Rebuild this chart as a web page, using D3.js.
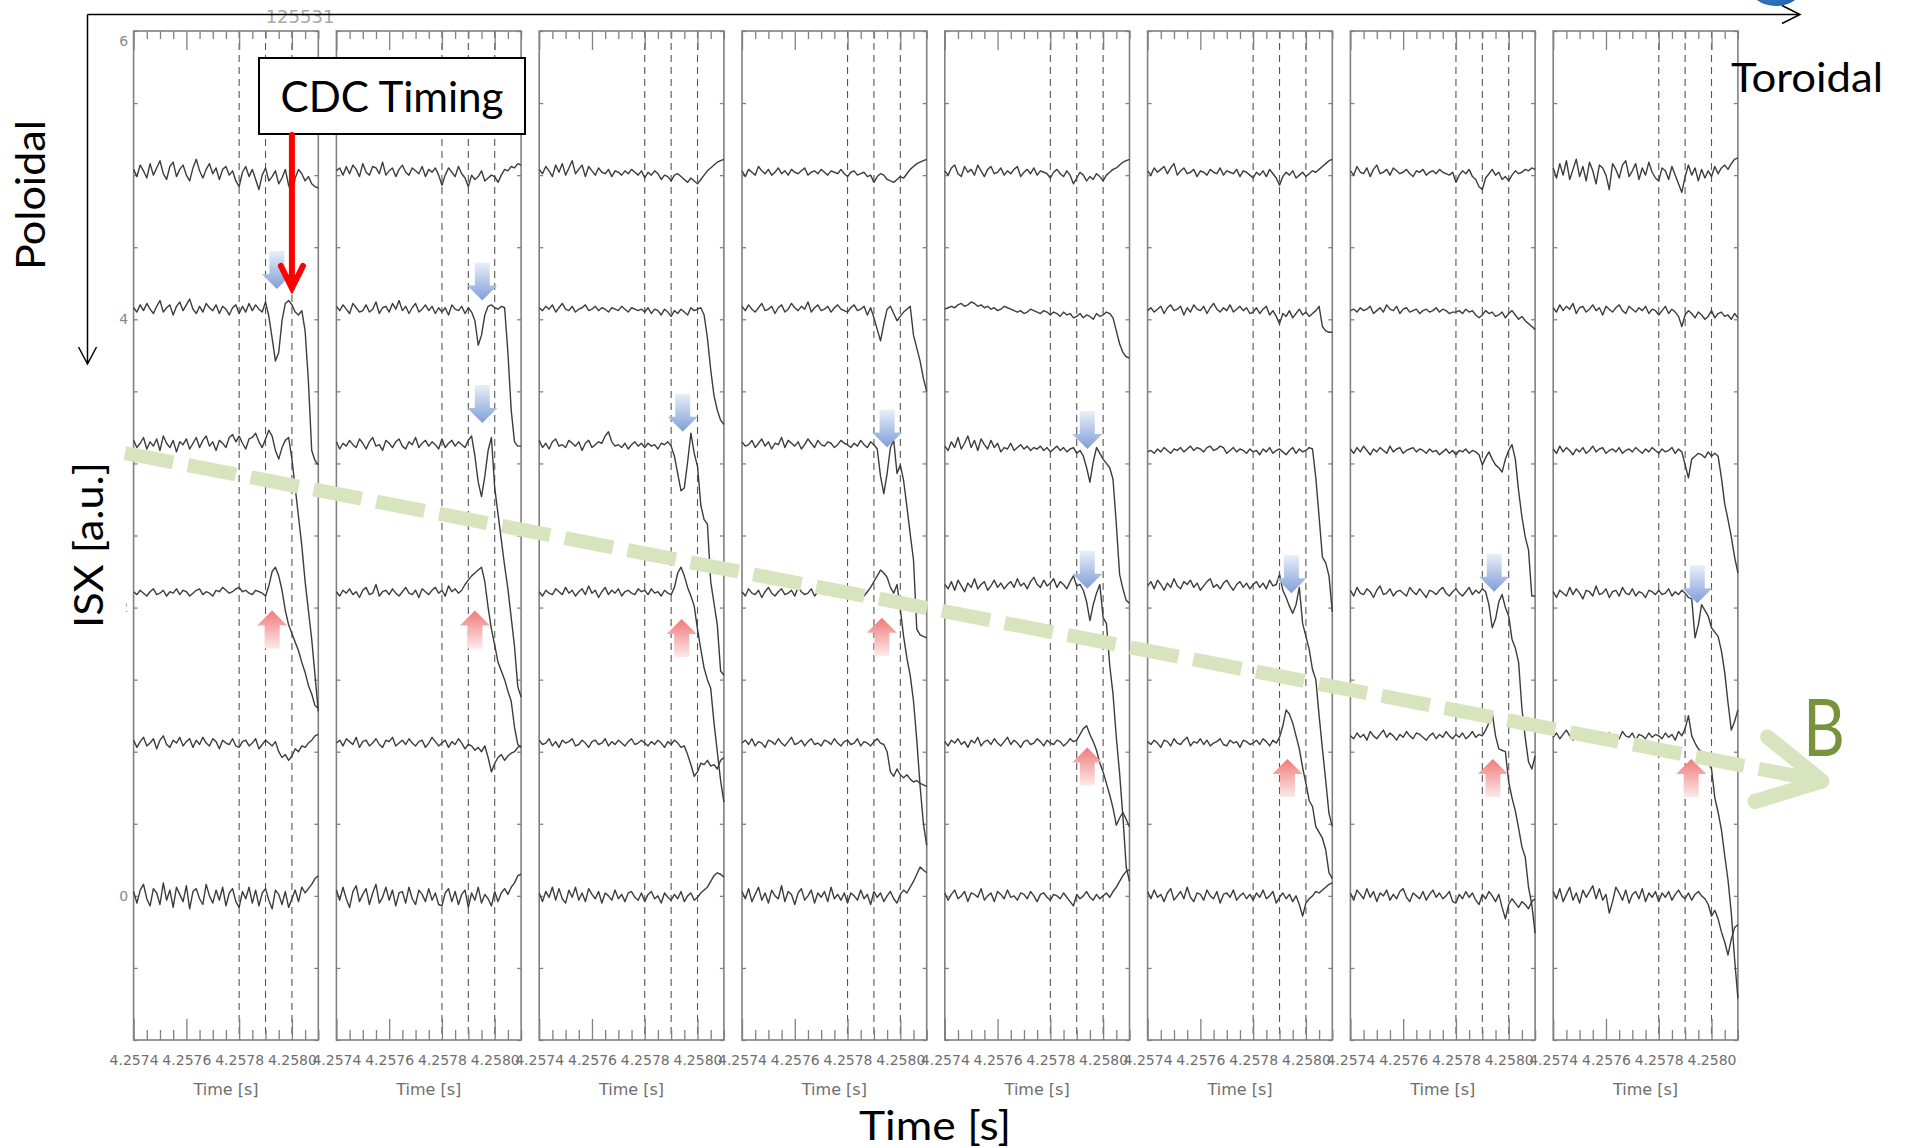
<!DOCTYPE html>
<html>
<head>
<meta charset="utf-8">
<script src="https://cdn.jsdelivr.net/npm/d3@7"></script>
<style>
  html, body { margin: 0; padding: 0; background: #ffffff; }
  svg { display: block; }
</style>
</head>
<body>
<svg id="chart" width="1905" height="1148"></svg>
<script>
// ---------------- data ----------------
const timeDomain = [4.2574, 4.2581];
const timeTicksMajor = [4.2574, 4.2576, 4.2578, 4.2580];
const timeTickLabels = ["4.2574", "4.2576", "4.2578", "4.2580"];
const markerTimes = [4.2578, 4.2579, 4.2580];          // dashed reference times
const isxDomain = [-1, 6];
const isxTickLabels = [0, 2, 4, 6];
const channelOffsets = [5.02, 4.07, 3.13, 2.10, 1.06, 0.00];
const sampleStart = 4.2574, sampleStep = 0.0000125, sampleCount = 57;
const shotNumber = "125531";
const cdcTime = 4.2580;

// ISX signals per toroidal array, six poloidal channels each, in units of 0.01 a.u.
const isxArray1 = [
  [2,-3,5,1,-4,6,-2,3,8,-1,-5,4,7,-3,2,5,-2,-6,3,9,1,-4,2,6,-1,3,-5,2,4,-2,1,-6,-10,0,4,-3,2,-5,-12,-2,3,-6,-3,1,-8,-4,2,-9,-15,-4,2,-1,-6,-3,-8,-10,-11],
  [1,-2,3,-1,4,0,-3,2,6,-2,1,3,-4,2,5,-1,3,7,0,-3,2,-2,4,1,-1,3,-3,2,0,-4,1,3,-3,2,-2,4,-1,3,0,-2,5,-5,-20,-36,-30,-8,4,6,3,-2,-4,-1,-15,-50,-98,-105,-108],
  [3,-2,1,5,-3,2,-1,4,-4,6,1,-2,3,-5,2,0,4,-3,1,5,-2,3,6,-1,2,-4,3,1,-2,5,7,2,6,1,-3,4,5,8,2,-2,4,10,6,-4,-10,-2,3,5,-10,-30,-50,-70,-95,-115,-135,-160,-185],
  [1,-1,2,0,-2,1,3,-1,0,2,-2,1,0,3,-1,2,1,-2,0,2,3,-1,1,0,-2,2,1,4,2,0,1,3,4,1,2,0,-1,2,1,0,-2,5,15,18,12,2,-12,-22,-28,-34,-40,-48,-55,-64,-70,-78,-80],
  [2,-3,1,4,-2,0,3,-4,2,5,-1,-3,2,0,4,-2,1,3,-3,2,-1,4,0,-2,3,1,-4,2,0,-1,3,-2,-3,1,2,-2,0,3,-4,-1,2,0,-2,1,-6,-10,-8,-12,-9,-4,-6,-2,-3,0,2,5,6],
  [3,-5,4,8,-2,-7,5,2,-6,9,-3,4,-8,6,1,-4,7,-9,3,5,-2,-6,8,0,-5,4,-3,6,-7,2,5,-4,-8,3,-2,6,-5,4,-7,2,5,-3,-9,4,1,-6,3,-8,-2,4,-4,6,2,5,8,12,14]
];
const isxArray2 = [
  [1,3,-2,4,-1,5,2,-3,6,0,-2,4,3,-1,7,-2,1,3,-3,2,5,0,-2,3,1,-1,4,-3,2,0,3,-2,-9,-2,3,0,-3,4,-1,-4,-10,-2,-5,-3,1,-6,-4,-2,-3,-7,-2,2,1,4,3,6,5],
  [2,-1,3,0,-3,4,1,-2,-1,3,-2,0,5,-3,1,2,-2,4,0,6,-1,2,-3,1,4,-2,0,3,-1,2,-3,1,-2,1,-4,3,0,-1,2,-3,1,-2,-8,-25,-18,-4,2,3,1,0,2,1,-30,-70,-92,-95,-95],
  [2,-3,1,-1,3,0,-2,4,1,-3,2,5,-1,0,-4,3,1,-2,2,4,-1,-3,2,0,5,-2,1,3,-1,2,0,-3,4,-2,1,3,-1,2,0,-2,3,6,-8,-26,-36,-22,-4,5,-30,-48,-66,-84,-100,-120,-140,-168,-175],
  [1,-2,2,0,3,-1,1,-3,2,4,-1,0,6,-2,1,2,-1,3,0,-2,1,4,0,-1,2,-3,3,1,-1,2,4,0,2,-2,5,1,3,0,2,6,9,12,14,16,18,8,-10,-25,-36,-48,-54,-60,-68,-75,-93,-105,-107],
  [0,2,-2,3,1,-1,4,-3,1,2,-2,0,3,-1,-3,2,1,4,-2,0,2,-1,3,0,-2,1,2,-3,0,4,1,-2,0,2,-3,1,-1,3,0,-4,-1,-2,-5,-3,-6,-2,-10,-20,-14,-10,-8,-12,-9,-7,-6,-3,-2],
  [4,-3,6,-2,-8,3,7,-4,1,5,-6,2,8,-5,-1,6,-3,4,-7,2,3,-5,6,-2,-6,4,1,-4,5,-3,2,-6,-7,2,5,-4,3,-6,1,4,-8,2,-3,6,-5,1,-2,-7,3,-4,2,5,1,6,9,14,15]
];
const isxArray3 = [
  [2,-1,4,1,-3,5,0,6,-2,3,8,-1,2,5,-3,4,1,-2,3,0,-1,2,-3,1,0,-2,1,-1,2,0,-2,1,-4,0,-2,1,-1,-5,-2,-3,-6,-2,-1,-3,-5,-7,-4,-6,-8,-5,-2,1,3,5,7,8,9],
  [1,-1,2,0,3,-2,1,4,0,-1,2,-2,0,1,3,-1,0,2,-1,1,0,-2,1,0,-1,2,0,-2,1,0,-1,0,-2,1,-3,0,-1,-4,0,-2,-5,-1,-3,0,-2,-4,1,-1,0,1,-4,-20,-42,-60,-70,-77,-80],
  [3,-2,1,-3,2,4,-1,0,-2,3,1,-1,2,-4,1,3,-2,0,2,1,6,9,2,-1,0,-2,1,-3,0,2,-1,1,-2,1,-1,0,-3,1,0,2,-1,-8,-20,-32,-30,-12,8,-6,-15,-42,-52,-55,-95,-110,-125,-157,-160],
  [1,-2,2,0,-1,3,1,-1,4,0,2,-2,1,3,-1,5,0,2,-3,1,4,-1,2,0,3,-2,1,2,0,-1,3,1,2,-1,3,0,1,-2,2,0,-1,4,14,18,12,4,-2,-9,-25,-39,-52,-60,-66,-90,-110,-130,-145],
  [2,-1,0,3,-2,1,-3,2,0,1,3,-2,-1,2,0,-3,1,2,-1,0,3,-2,1,-1,2,0,-2,1,3,-1,0,2,0,-2,1,-1,2,0,-3,1,-1,2,0,-3,-2,-8,-15,-23,-20,-14,-15,-12,-16,-15,-18,-12,-10],
  [2,-4,3,-1,6,-3,5,-2,-5,4,-1,6,-3,2,-4,5,1,-2,3,-5,2,0,-3,4,-2,1,-4,2,3,-1,-3,2,-4,1,3,-2,0,-5,2,-1,-3,1,-2,3,-4,0,2,-3,-1,2,4,6,10,14,16,15,13]
];
const isxArray4 = [
  [1,-3,2,0,-2,4,1,-1,2,-2,0,3,-1,1,-2,2,0,-1,1,3,-2,0,1,-1,2,0,-2,1,0,-1,2,-1,-3,0,1,-2,-1,0,-3,-2,-7,-3,-1,-2,-5,-6,-7,-5,-3,-4,-1,2,4,6,7,8,9],
  [2,-1,3,0,-2,1,4,-1,0,2,-3,1,3,-2,0,4,1,-1,2,0,5,-2,1,3,-1,0,2,-2,1,3,0,-1,-2,1,3,-1,0,2,-4,1,-6,-14,-22,-10,0,2,-3,-8,-5,-2,0,2,-18,-27,-36,-48,-57],
  [2,-1,0,3,-2,1,4,-1,2,-3,1,0,5,-2,3,1,-1,2,-3,0,4,1,-2,3,0,-1,2,1,-2,0,3,1,0,-2,1,-1,3,0,-2,2,0,-3,-22,-34,-20,-2,3,-20,-14,-25,-43,-62,-80,-128,-132,-133,-134],
  [1,-2,3,0,-1,2,-3,1,4,0,-2,1,3,-1,0,2,-2,4,1,-1,0,3,-2,1,2,-1,0,3,1,-2,2,0,1,-1,2,0,3,-2,1,4,8,12,16,14,11,4,0,6,-11,-30,-45,-57,-75,-102,-134,-160,-175],
  [0,2,-1,3,-2,1,0,-3,2,1,-1,3,0,-2,1,4,-1,0,2,-2,1,3,-1,0,-2,2,1,-1,3,0,-2,1,2,-1,0,3,-2,1,0,-2,1,3,0,-1,-6,-20,-23,-18,-22,-24,-22,-25,-27,-26,-28,-29,-30],
  [3,-2,5,-4,1,6,-3,2,-5,4,0,-2,7,-4,3,1,-6,2,5,-3,0,4,-5,2,-1,3,-4,6,-2,1,-3,2,-5,2,0,-3,4,-2,1,-6,3,-1,2,-4,0,3,-2,-5,1,4,2,6,10,15,20,18,16]
];
const isxArray5 = [
  [1,-2,3,5,-1,-3,4,0,2,-2,5,1,-3,2,4,-1,0,3,-2,1,-1,2,4,-3,0,2,-1,3,-2,1,0,-1,-4,0,2,-1,-3,1,-2,-8,-4,0,-2,-6,-3,-5,-1,-3,-6,-2,0,2,3,5,7,8,9],
  [0,1,2,1,3,4,2,3,5,4,2,3,1,2,0,1,-1,0,2,1,0,-1,-2,-1,-3,-2,0,-1,-2,-3,-1,-2,-4,-2,-3,-5,-2,-4,-3,-6,-5,-3,-6,-4,-5,-7,-3,-5,-4,-2,-3,-6,-15,-24,-30,-33,-34],
  [-1,-4,2,-2,5,-3,1,6,-2,3,-4,4,0,-3,3,-2,1,-5,-2,-3,1,-4,-2,0,-3,-1,-4,-2,-3,-1,-4,-2,-5,-3,-1,-4,-2,-5,-3,-2,-6,-4,-8,-16,-26,-12,-2,-6,-10,-13,-16,-24,-55,-90,-100,-108,-110],
  [6,3,8,2,9,5,1,7,4,10,3,6,8,2,5,9,4,7,3,6,8,4,10,5,7,3,8,11,6,4,9,5,7,10,4,8,6,3,8,12,5,6,2,-6,-19,-8,0,6,-17,-21,-50,-70,-100,-125,-155,-190,-200],
  [1,-2,2,0,3,-1,1,-3,2,0,4,-2,1,2,-1,3,0,-2,1,4,-1,2,0,-3,1,2,-1,0,3,1,-2,2,0,-1,2,1,-2,0,3,1,2,6,10,12,6,1,-5,-14,-20,-28,-36,-45,-57,-52,-48,-53,-58],
  [2,-3,1,4,-2,0,3,-4,2,1,-1,5,-3,0,2,-4,3,1,-2,4,-1,0,-3,2,1,-2,3,0,-4,1,2,-1,-3,1,0,-2,2,-1,-4,-7,1,-2,0,3,-1,-3,1,-2,0,2,-1,3,6,10,14,17,18]
];
const isxArray6 = [
  [1,-2,3,0,2,4,-1,3,6,-2,1,3,-1,0,2,-3,1,0,-2,2,0,-1,3,-2,1,0,-1,2,-3,1,0,-2,-4,0,-2,1,-3,2,-1,-4,-9,-3,0,-2,1,-4,-2,0,-3,-1,1,0,2,4,6,8,9],
  [-1,1,-2,0,2,-3,1,3,-1,0,2,-4,1,-2,3,0,-1,2,-3,1,4,0,-2,1,-1,3,-2,0,2,-1,1,-3,-2,1,-3,0,2,-4,-1,-5,-10,-3,-5,-1,-6,-3,0,-4,-2,-5,-3,-1,2,-12,-15,-16,-16],
  [-5,-4,-6,-3,-5,-2,-4,-6,-3,-4,-2,-5,-3,-1,-4,-2,-3,-5,-2,-1,-4,-3,-1,-2,-6,-4,-2,-5,-3,-4,-6,-3,-5,-4,-7,-3,-5,-2,-6,-4,-3,-5,-7,-4,-2,-6,-3,-5,-4,-2,-3,-23,-50,-78,-82,-91,-116],
  [5,8,3,9,6,2,7,4,10,5,3,8,6,9,4,7,2,5,8,10,4,6,3,7,9,5,2,6,8,4,7,3,6,8,4,7,3,9,5,6,13,2,-3,-9,-14,-8,4,-21,-30,-39,-53,-60,-85,-108,-130,-153,-162],
  [1,-1,2,0,-3,2,1,-2,3,0,-1,2,4,-2,1,0,3,-1,2,-2,0,1,3,-1,-2,2,0,1,-3,2,1,-1,0,2,-1,3,1,-2,2,0,4,12,23,20,14,5,-4,-17,-28,-40,-44,-58,-62,-66,-74,-90,-94],
  [3,-2,4,-1,1,-4,2,5,-3,0,3,-2,6,-1,-4,2,1,-3,4,0,-2,3,-5,1,2,-1,4,-3,0,2,-2,1,-3,2,-1,4,-2,0,3,-5,-1,2,-2,1,-4,0,-6,-14,-5,-2,0,3,2,4,6,8,9]
];
const isxArray7 = [
  [1,-2,4,0,-1,3,-3,2,5,-1,0,2,-2,3,1,-1,0,2,-1,-3,1,0,2,-2,0,1,-1,2,0,-1,-2,0,-7,-2,1,-1,2,-3,-5,-10,-12,-4,-1,2,-2,0,-5,-3,-6,-2,1,-1,0,2,1,3,2],
  [-1,0,-2,1,-1,0,2,-3,-1,1,-2,3,0,-1,2,-3,0,1,-2,-1,0,-3,-1,0,-2,-1,1,-2,0,-1,-3,-2,-2,-1,-3,0,-2,-1,-4,-6,-4,-1,-3,-2,-5,-4,-2,-6,-3,-1,-4,-7,-5,-8,-10,-12,-14],
  [-3,-6,-2,-5,-1,-4,-7,-3,-5,-2,-4,-6,-1,-5,-3,-2,-6,-4,-3,-2,-5,-3,-4,-6,-3,-5,-4,-7,-5,-3,-6,-4,-7,-4,-5,-3,-6,-4,-5,-7,-14,-9,-5,-10,-14,-16,-19,-10,-4,0,-10,-32,-50,-64,-73,-105,-105],
  [2,-2,4,0,-1,3,1,-3,2,5,-1,0,3,-2,1,2,0,-2,4,1,-1,3,0,-3,2,1,-1,2,4,0,-2,1,3,0,-2,1,4,-1,2,0,3,1,-8,-24,-18,-6,-1,-10,-16,-32,-38,-48,-80,-100,-117,-122,-113],
  [5,3,7,4,6,2,8,5,3,6,9,4,7,5,2,6,4,8,5,3,7,6,4,2,5,7,3,6,4,8,5,3,6,4,7,3,5,8,4,6,5,9,14,21,5,-4,-5,-6,-27,-38,-47,-59,-72,-79,-100,-112,-132],
  [2,-3,4,1,-2,5,-1,3,-4,2,0,4,-3,1,-2,3,5,-1,-4,2,0,-2,3,-3,1,4,-1,2,-2,0,3,-4,-5,1,-2,3,-1,2,-3,-6,1,-2,3,0,-4,1,-8,-16,-6,-2,-5,-8,-4,-6,-9,-4,-2]
];
const isxArray8 = [
  [3,-4,6,-2,8,-5,2,9,-3,4,-6,7,1,-8,5,3,-2,-12,6,2,-4,5,8,-3,1,6,-5,3,-2,7,0,-4,-6,3,1,-5,4,-2,-8,-14,-3,5,-2,3,-6,2,-4,1,-3,4,-1,3,5,2,6,9,10],
  [1,-2,3,-1,2,0,4,-3,1,2,-2,0,3,-1,1,-4,2,0,-2,1,3,-1,-3,2,0,-2,1,-1,2,-3,0,-1,-4,-1,2,-3,0,-2,-5,-12,-4,-1,-3,-6,-2,-4,-7,-5,-1,-6,-3,-2,-5,-4,-7,-3,-6],
  [-3,-6,-1,-5,-2,-4,-7,-3,-5,-2,-6,-4,-1,-5,-3,-2,-6,-4,-3,-5,-2,-6,-4,-3,-5,-2,-4,-6,-3,-5,-2,-4,-6,-3,-5,-4,-2,-6,-3,-5,-14,-23,-10,-8,-6,-7,-9,-5,-8,-6,-8,-23,-41,-52,-64,-78,-89],
  [1,-3,2,0,-2,4,-1,3,0,-4,2,1,-2,5,-1,0,3,-3,1,2,-2,4,0,-1,3,-2,1,0,-3,2,1,-1,2,-1,0,3,-2,1,-1,2,0,-3,-4,-31,-22,-8,-12,-16,-24,-27,-30,-40,-55,-76,-95,-89,-81],
  [4,7,3,6,9,5,2,8,6,4,7,3,5,8,6,2,5,7,4,6,3,8,5,4,7,2,6,5,3,7,4,6,5,3,7,4,6,2,8,5,10,19,5,0,-4,-6,-9,-14,-18,-38,-48,-60,-78,-95,-118,-150,-177],
  [3,-2,5,-4,1,6,-3,2,-5,4,-1,3,7,-2,5,-3,1,-12,-4,6,2,-3,4,-5,1,3,-2,5,-4,2,-1,3,-4,2,-1,3,-3,1,4,0,-2,2,-3,1,3,0,-2,-6,-14,-10,-16,-25,-32,-41,-30,-22,-20]
];
const isxArrays = [isxArray1, isxArray2, isxArray3, isxArray4, isxArray5, isxArray6, isxArray7, isxArray8];

// event markers: [array index, time, ISX value at the tip]
const dropMarks = [
  [0, 4.257943, 4.21], [1, 4.257953, 4.13], [1, 4.257953, 3.28], [2, 4.257944, 3.22],
  [3, 4.257950, 3.11], [4, 4.257940, 3.10], [4, 4.257940, 2.13], [5, 4.257945, 2.10],
  [6, 4.257945, 2.11], [7, 4.257946, 2.03]
];
const riseMarks = [
  [0, 4.257925, 1.98], [1, 4.257925, 1.98], [2, 4.257940, 1.92], [3, 4.257930, 1.93],
  [4, 4.257940, 1.03], [5, 4.257930, 0.95], [6, 4.257940, 0.95], [7, 4.257923, 0.95]
];

// ---------------- layout ----------------
const svg = d3.select("#chart");
const panelLeft = d3.scaleLinear().domain([0, 7]).range([133.6, 1553.2]);
const panelW = 184.7, panelTop = 31, panelBottom = 1040;
const x = d3.scaleLinear().domain(timeDomain).range([0, panelW]);
const y = d3.scaleLinear().domain(isxDomain).range([panelBottom, panelTop]);
const sampleTimes = d3.range(sampleCount).map(i => sampleStart + i * sampleStep);

const axisGray = "#808080";
const labelFont = "'DejaVu Sans', Verdana, sans-serif";
const titleFont = "Lato, 'Open Sans', sans-serif";

// gradients for the block arrows
const defs = svg.append("defs");
const gBlue = defs.append("linearGradient").attr("id", "gradBlue")
  .attr("x1", 0).attr("y1", 0).attr("x2", 0).attr("y2", 1);
gBlue.append("stop").attr("offset", "0%").attr("stop-color", "#e9eff8");
gBlue.append("stop").attr("offset", "100%").attr("stop-color", "#7f9ed8");
const gRed = defs.append("linearGradient").attr("id", "gradRed")
  .attr("x1", 0).attr("y1", 0).attr("x2", 0).attr("y2", 1);
gRed.append("stop").attr("offset", "0%").attr("stop-color", "#f07a7a");
gRed.append("stop").attr("offset", "100%").attr("stop-color", "#fde8e8");
const gBall = defs.append("radialGradient").attr("id", "gradBall")
  .attr("cx", "40%").attr("cy", "60%").attr("r", "60%");
gBall.append("stop").attr("offset", "0%").attr("stop-color", "#3b86d6");
gBall.append("stop").attr("offset", "100%").attr("stop-color", "#1a5aa3");

// shot number (sits under the toroidal arrow line)
svg.append("text")
  .attr("x", 300).attr("y", 23).attr("text-anchor", "middle")
  .attr("font-family", labelFont).attr("font-size", 18).attr("fill", "#a8a8a8")
  .text(shotNumber);

// blue sphere at the end of the toroidal arrow
svg.append("ellipse").attr("cx", 1776).attr("cy", -13).attr("rx", 26).attr("ry", 19)
  .attr("fill", "url(#gradBall)");

// toroidal / poloidal direction arrows
const frame = svg.append("g").attr("stroke", "#000").attr("stroke-width", 1.5).attr("fill", "none");
frame.append("path").attr("d", "M87.5,14.5H1800 M1782,5.5L1800,14.5L1782,23.5");
frame.append("path").attr("d", "M87.5,14.5V364 M78.5,347L87.5,364L96.5,347");

// ---------------- panels ----------------
const line = d3.line().x(d => x(d.t)).y(d => y(d.v));
const minorTicks = x.ticks(14).filter(t => !timeTicksMajor.some(m => Math.abs(m - t) < 1e-9));
const yTicks = y.ticks(14);

function styleAxis(sel) {
  sel.select(".domain").remove();
  sel.selectAll(".tick line").attr("stroke", axisGray).attr("stroke-width", 1.3);
}

isxArrays.forEach((channels, p) => {
  const g = svg.append("g").attr("transform", `translate(${panelLeft(p)},0)`);

  // dashed reference times
  g.selectAll("line.marker").data(markerTimes).join("line")
    .attr("class", "marker")
    .attr("x1", d => x(d)).attr("x2", d => x(d))
    .attr("y1", panelTop).attr("y2", panelBottom)
    .attr("stroke", "#555").attr("stroke-width", 1.1).attr("stroke-dasharray", "7,5");

  // time ticks: top edge (pointing down) and bottom edge (pointing up)
  g.append("g").attr("transform", `translate(0,${panelTop})`)
    .call(d3.axisBottom(x).tickValues(minorTicks).tickSize(8).tickFormat(() => "")).call(styleAxis);
  g.append("g").attr("transform", `translate(0,${panelTop})`)
    .call(d3.axisBottom(x).tickValues(timeTicksMajor).tickSize(19).tickFormat(() => "")).call(styleAxis);
  g.append("g").attr("transform", `translate(0,${panelBottom})`)
    .call(d3.axisTop(x).tickValues(minorTicks).tickSize(10).tickFormat(() => "")).call(styleAxis);
  g.append("g").attr("transform", `translate(0,${panelBottom})`)
    .call(d3.axisTop(x).tickValues(timeTicksMajor).tickSize(21).tickFormat(() => "")).call(styleAxis);

  // ISX ticks on both sides
  g.append("g").call(d3.axisRight(y).tickValues(yTicks).tickSize(4).tickFormat(() => "")).call(styleAxis);
  g.append("g").attr("transform", `translate(${panelW},0)`)
    .call(d3.axisLeft(y).tickValues(yTicks).tickSize(4).tickFormat(() => "")).call(styleAxis);

  // time tick labels
  const lab = g.append("g").attr("transform", `translate(0,${panelBottom})`)
    .call(d3.axisBottom(x).tickValues(timeTicksMajor).tickSize(0).tickPadding(15)
      .tickFormat((d, i) => timeTickLabels[i]));
  lab.select(".domain").remove();
  lab.selectAll("text").attr("font-family", labelFont).attr("font-size", 14).attr("fill", "#6e6e6e");

  g.append("text")
    .attr("x", panelW / 2).attr("y", 1095).attr("text-anchor", "middle")
    .attr("font-family", labelFont).attr("font-size", 16).attr("fill", "#6e6e6e")
    .text("Time [s]");

  // frame
  g.append("rect")
    .attr("x", 0).attr("y", panelTop).attr("width", panelW).attr("height", panelBottom - panelTop)
    .attr("fill", "none").attr("stroke", axisGray).attr("stroke-width", 1.6);

  // ISX traces
  channels.forEach((dev, c) => {
    const pts = dev.map((d, i) => ({ t: sampleTimes[i], v: channelOffsets[c] + d / 100 }));
    g.append("path").datum(pts)
      .attr("d", line).attr("fill", "none")
      .attr("stroke", "#3c3c3c").attr("stroke-width", 1.4).attr("stroke-linejoin", "round");
  });

  // ISX value labels on the first array only
  if (p === 0) {
    g.selectAll("text.ylab").data(isxTickLabels).join("text")
      .attr("class", "ylab")
      .attr("x", -5.5).attr("y", d => Math.max(y(d), panelTop + 10))
      .attr("dy", "0.35em").attr("text-anchor", "end")
      .attr("font-family", labelFont).attr("font-size", 14).attr("fill", "#888")
      .text(d => d);
  }
});

// ---------------- axis titles ----------------
svg.append("rect").attr("x", 58).attr("y", 452).attr("width", 68).attr("height", 190).attr("fill", "#fff");
svg.append("text")
  .attr("transform", "translate(103,545) rotate(-90)")
  .attr("text-anchor", "middle").attr("font-family", titleFont).attr("font-size", 41)
  .attr("textLength", 166).attr("lengthAdjust", "spacingAndGlyphs")
  .text("ISX [a.u.]");
svg.append("text")
  .attr("transform", "translate(45,195) rotate(-90)")
  .attr("text-anchor", "middle").attr("font-family", titleFont).attr("font-size", 41)
  .attr("textLength", 150).attr("lengthAdjust", "spacingAndGlyphs")
  .text("Poloidal");
svg.append("text")
  .attr("x", 1731).attr("y", 92).attr("font-family", titleFont).attr("font-size", 41)
  .attr("textLength", 152).attr("lengthAdjust", "spacingAndGlyphs")
  .text("Toroidal");
svg.append("text")
  .attr("x", 935).attr("y", 1140).attr("text-anchor", "middle")
  .attr("font-family", titleFont).attr("font-size", 41)
  .attr("textLength", 152).attr("lengthAdjust", "spacingAndGlyphs")
  .text("Time [s]");

// ---------------- annotations ----------------
function blockArrow(dir) {   // tip at origin; dir = 1 points down, -1 points up
  const hw = 15, sw = 7.5, hh = 15, L = 38;
  return `M0,0L${-hw},${-dir * hh}L${-sw},${-dir * hh}L${-sw},${-dir * L}` +
         `L${sw},${-dir * L}L${sw},${-dir * hh}L${hw},${-dir * hh}Z`;
}
svg.append("g").selectAll("path").data(dropMarks).join("path")
  .attr("transform", d => `translate(${panelLeft(d[0]) + x(d[1])},${y(d[2])})`)
  .attr("d", blockArrow(1)).attr("fill", "url(#gradBlue)");
svg.append("g").selectAll("path").data(riseMarks).join("path")
  .attr("transform", d => `translate(${panelLeft(d[0]) + x(d[1])},${y(d[2])})`)
  .attr("d", blockArrow(-1)).attr("fill", "url(#gradRed)");

// field-line direction B
const bStart = [125, 453], bTip = [1822, 781];
const ang = Math.atan2(bTip[1] - bStart[1], bTip[0] - bStart[0]);
const arm = 70, spread = 28 * Math.PI / 180;
svg.append("line")
  .attr("x1", bStart[0]).attr("y1", bStart[1])
  .attr("x2", bTip[0] - 8 * Math.cos(ang)).attr("y2", bTip[1] - 8 * Math.sin(ang))
  .attr("stroke", "#d7e4bd").attr("stroke-width", 14).attr("stroke-dasharray", "49,15");
svg.append("path")
  .attr("d", `M${bTip[0] - arm * Math.cos(ang - spread)},${bTip[1] - arm * Math.sin(ang - spread)}` +
             `L${bTip[0]},${bTip[1]}` +
             `L${bTip[0] - arm * Math.cos(ang + spread)},${bTip[1] - arm * Math.sin(ang + spread)}`)
  .attr("fill", "none").attr("stroke", "#d7e4bd").attr("stroke-width", 15)
  .attr("stroke-linecap", "round").attr("stroke-linejoin", "round");
svg.append("text")
  .attr("x", 1803).attr("y", 756).attr("font-family", titleFont).attr("font-size", 80)
  .attr("fill", "#77933c").attr("textLength", 42).attr("lengthAdjust", "spacingAndGlyphs")
  .text("B");

// CDC timing callout
const cdcX = panelLeft(0) + x(cdcTime);
svg.append("rect").attr("x", 259).attr("y", 58).attr("width", 266).attr("height", 76)
  .attr("fill", "#fff").attr("stroke", "#000").attr("stroke-width", 2);
svg.append("text")
  .attr("x", 392).attr("y", 112).attr("text-anchor", "middle")
  .attr("font-family", titleFont).attr("font-size", 43)
  .attr("textLength", 223).attr("lengthAdjust", "spacingAndGlyphs")
  .text("CDC Timing");
svg.append("path")
  .attr("d", `M${cdcX},135V286 M${cdcX - 11},266L${cdcX},288L${cdcX + 11},266`)
  .attr("fill", "none").attr("stroke", "#ff0000").attr("stroke-width", 6)
  .attr("stroke-linecap", "round").attr("stroke-linejoin", "miter");
</script>
</body>
</html>
